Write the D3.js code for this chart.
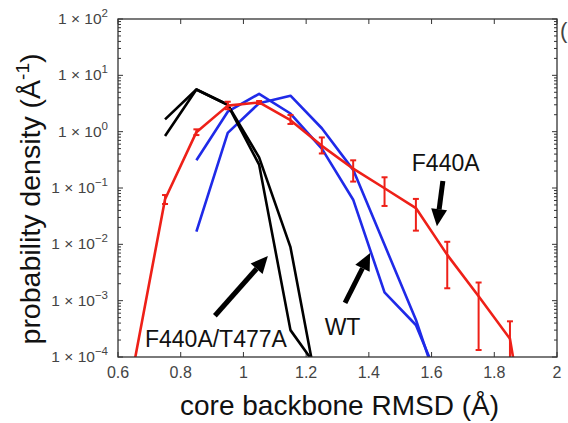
<!DOCTYPE html>
<html>
<head>
<meta charset="utf-8">
<script src="https://cdn.jsdelivr.net/npm/d3@7"></script>
<style>
  html, body { margin: 0; padding: 0; background: #fff; }
  svg text { font-family: "Liberation Sans", Arial, Helvetica, sans-serif; }
</style>
</head>
<body>
<div id="chart"></div>
<script>
// RMSD grid (Å)
var rmsdF440A = [0.65, 0.75, 0.85, 0.95, 1.05, 1.15, 1.25, 1.35, 1.45, 1.55, 1.65, 1.75, 1.85, 1.95];
var densF440A = [7e-5, 0.063, 0.98, 2.9, 3.3, 1.6, 0.56, 0.22, 0.099, 0.044, 0.0065, 0.0012, 2.1e-4, 1e-7];
var errLoF440A = [null, 0.052, 0.87, 2.5, 3.1, 1.37, 0.41, 0.13, 0.048, 0.0175, 0.00166, 1.33e-4, 1e-5, null];
var errHiF440A = [null, 0.075, 1.1, 3.4, 3.5, 1.98, 0.79, 0.31, 0.155, 0.064, 0.0111, 0.0021, 4.3e-4, null];

var rmsdDouble = [0.75, 0.85, 0.95, 1.05, 1.15, 1.25];
var densDoubleA = [0.84, 5.6, 3.0, 0.26, 3e-4, 5e-5];
var densDoubleB = [1.65, 5.6, 3.0, 0.35, 0.0089, 1e-5];

var rmsdWT = [0.85, 0.95, 1.05, 1.15, 1.25, 1.35, 1.45, 1.55, 1.65];
var densWT1 = [0.31, 2.26, 4.7, 2.1, 0.5, 0.062, 0.0014, 3.7e-4, 1.7e-5];
var densWT2 = [0.0168, 0.95, 3.2, 4.35, 1.15, 0.21, 0.0098, 4.6e-4, 1e-5];

var xTicks = [0.6, 0.8, 1, 1.2, 1.4, 1.6, 1.8, 2];
var yTickExps = [2, 1, 0, -1, -2, -3, -4];

// annotations: [label, labelX, labelY, anchor, arrow tail x, tail y, tip x, tip y]
var notes = [
  ["F440A", 1.645, 0.2, "middle", 1.636, 0.133, 1.617, 0.021],
  ["WT", 1.316, 2.45e-4, "middle", 1.324, 9.1e-4, 1.404, 0.007],
  ["F440A/T477A", 0.686, 1.5e-4, "start", 0.909, 5.4e-4, 1.078, 0.0062]
];

var W = 568, H = 423;
var m = {left: 118, right: 11, top: 19, bottom: 66};
var red = "#ee2018", blue = "#1f2ae8";

var svg = d3.select("#chart").append("svg")
    .attr("width", W).attr("height", H);

var x = d3.scaleLinear().domain([0.6, 2]).range([m.left, W - m.right]);
var y = d3.scaleLog().domain([1e-4, 1e2]).range([H - m.bottom, m.top]);

svg.append("clipPath").attr("id", "plotclip")
  .append("rect")
    .attr("x", x(0.6)).attr("y", y(1e2))
    .attr("width", x(2) - x(0.6)).attr("height", y(1e-4) - y(1e2));

// minor log ticks
var minorVals = [];
for (var e = -4; e < 2; e++) {
    for (var k = 2; k <= 9; k++) minorVals.push(k * Math.pow(10, e));
}

var axisG = svg.append("g").attr("stroke", "#333").attr("stroke-width", 1);
// y ticks, both sides
yTickExps.forEach(function (p) {
    var yy = y(Math.pow(10, p));
    axisG.append("line").attr("x1", x(0.6)).attr("x2", x(0.6) + 5).attr("y1", yy).attr("y2", yy);
    axisG.append("line").attr("x1", x(2)).attr("x2", x(2) - 5).attr("y1", yy).attr("y2", yy);
});
minorVals.forEach(function (v) {
    var yy = y(v);
    axisG.append("line").attr("x1", x(0.6)).attr("x2", x(0.6) + 3).attr("y1", yy).attr("y2", yy);
    axisG.append("line").attr("x1", x(2)).attr("x2", x(2) - 3).attr("y1", yy).attr("y2", yy);
});
// x ticks, bottom and top
xTicks.forEach(function (t) {
    var xx = x(t);
    axisG.append("line").attr("x1", xx).attr("x2", xx).attr("y1", y(1e-4)).attr("y2", y(1e-4) - 5);
    axisG.append("line").attr("x1", xx).attr("x2", xx).attr("y1", y(1e2)).attr("y2", y(1e2) + 5);
});

// tick labels
svg.append("g").selectAll("text").data(xTicks).enter().append("text")
    .attr("x", function (d) { return x(d); })
    .attr("y", y(1e-4) + 21)
    .attr("text-anchor", "middle")
    .attr("font-size", 16)
    .attr("fill", "#444")
    .text(function (d) { return d3.format("~g")(d); });

var yl = svg.append("g").selectAll("text").data(yTickExps).enter().append("text")
    .attr("x", x(0.6) - 10)
    .attr("y", function (d) { return y(Math.pow(10, d)) + 5; })
    .attr("text-anchor", "end")
    .attr("font-size", 15.5)
    .attr("fill", "#444");
yl.append("tspan").text("1 \u00d7 10");
yl.append("tspan").attr("dy", -7).attr("font-size", 11.5)
    .text(function (d) { return String(d).replace("-", "\u2212"); });

// series
var plot = svg.append("g").attr("clip-path", "url(#plotclip)");
var line = d3.line()
    .x(function (d) { return x(d[0]); })
    .y(function (d) { return y(d[1]); });

function drawSeries(xs, ys, color) {
    plot.append("path")
        .datum(d3.zip(xs, ys))
        .attr("fill", "none")
        .attr("stroke", color)
        .attr("stroke-width", 2.6)
        .attr("stroke-linejoin", "round")
        .attr("d", line);
}

drawSeries(rmsdWT, densWT1, blue);
drawSeries(rmsdWT, densWT2, blue);
drawSeries(rmsdDouble, densDoubleA, "#000");
drawSeries(rmsdDouble, densDoubleB, "#000");
drawSeries(rmsdF440A, densF440A, red);

// error bars for F440A
var errData = rmsdF440A.map(function (r, i) {
    return {x: r, v: densF440A[i], lo: errLoF440A[i], hi: errHiF440A[i]};
}).filter(function (d) { return d.lo !== null; });

var eb = plot.append("g").attr("stroke", red).attr("stroke-width", 2);
errData.forEach(function (d) {
    var xx = x(d.x);
    eb.append("line").attr("x1", xx).attr("x2", xx).attr("y1", y(d.lo)).attr("y2", y(d.hi));
    eb.append("line").attr("x1", xx - 3).attr("x2", xx + 3).attr("y1", y(d.lo)).attr("y2", y(d.lo));
    eb.append("line").attr("x1", xx - 3).attr("x2", xx + 3).attr("y1", y(d.hi)).attr("y2", y(d.hi));
});

// frame
svg.append("rect")
    .attr("x", x(0.6)).attr("y", y(1e2))
    .attr("width", x(2) - x(0.6)).attr("height", y(1e-4) - y(1e2))
    .attr("fill", "none").attr("stroke", "#333").attr("stroke-width", 1.3);

// annotations
var ann = svg.append("g");
notes.forEach(function (n) {
    ann.append("text")
        .attr("x", x(n[1])).attr("y", y(n[2]))
        .attr("text-anchor", n[3])
        .attr("font-size", 23)
        .attr("fill", "#111")
        .text(n[0]);
    var x0 = x(n[4]), y0 = y(n[5]), x1 = x(n[6]), y1 = y(n[7]);
    var ang = Math.atan2(y1 - y0, x1 - x0);
    var headL = 17, headW = 8;
    var bx = x1 - headL * Math.cos(ang), by = y1 - headL * Math.sin(ang);
    ann.append("line")
        .attr("x1", x0).attr("y1", y0).attr("x2", bx).attr("y2", by)
        .attr("stroke", "#000").attr("stroke-width", 5);
    var px = -Math.sin(ang) * headW, py = Math.cos(ang) * headW;
    ann.append("path")
        .attr("d", "M" + x1 + "," + y1 + "L" + (bx + px) + "," + (by + py) + "L" + (bx - px) + "," + (by - py) + "Z")
        .attr("fill", "#000");
});

// axis titles
svg.append("text")
    .attr("x", (x(0.6) + x(2)) / 2 + 2)
    .attr("y", 415)
    .attr("text-anchor", "middle")
    .attr("font-size", 28)
    .attr("fill", "#111")
    .text("core backbone RMSD (\u00c5)");

var yt = svg.append("text")
    .attr("transform", "translate(40,199) rotate(-90)")
    .attr("text-anchor", "middle")
    .attr("font-size", 28.5)
    .attr("fill", "#111");
yt.append("tspan").text("probability density (\u00c5");
yt.append("tspan").attr("dy", -11).attr("font-size", 19).text("-1");
yt.append("tspan").attr("dy", 11).text(")");

// cut-off panel label at the right edge
svg.append("text")
    .attr("x", 560).attr("y", 38)
    .attr("font-size", 22)
    .attr("fill", "#444")
    .text("(");
</script>
</body>
</html>
